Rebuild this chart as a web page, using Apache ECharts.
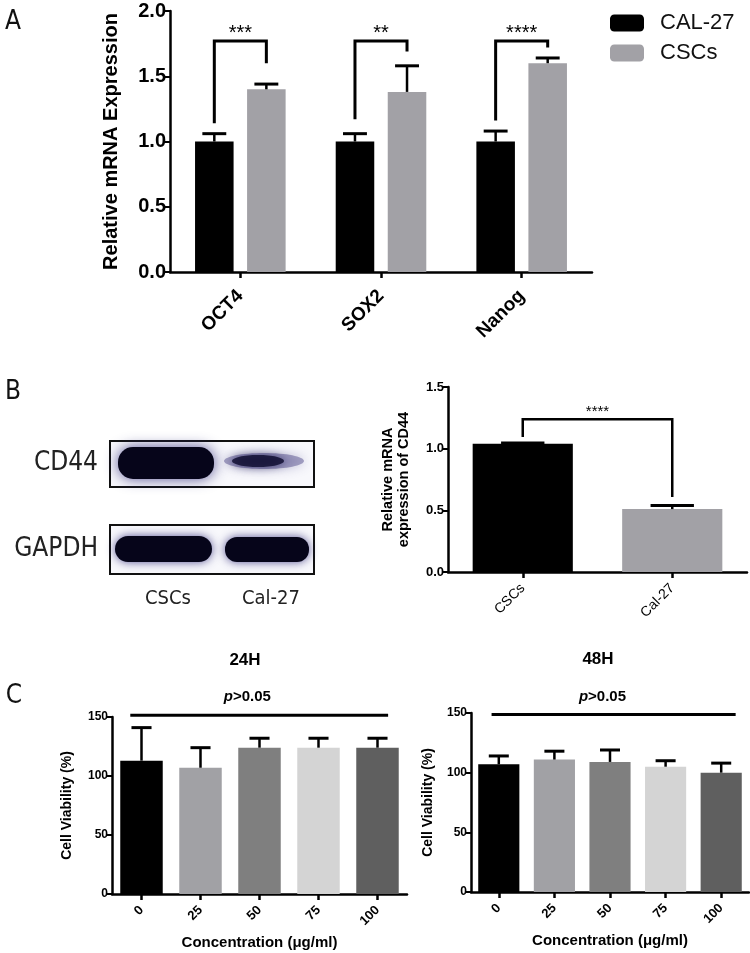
<!DOCTYPE html>
<html><head><meta charset="utf-8">
<script src="https://cdn.jsdelivr.net/npm/echarts@6/dist/echarts.min.js"></script>
<style>html,body{margin:0;padding:0;background:#fff}#c{width:750px;height:953px}</style>
</head><body><div id="c"></div><script>
// ---------- Panel A data ----------
const geneCategories = ['OCT4', 'SOX2', 'Nanog'];
const cal27Mean = [1.00, 1.00, 1.00];
const cal27Err = [0.06, 0.06, 0.08];
const cscMean = [1.40, 1.38, 1.60];
const cscErr = [0.04, 0.20, 0.04];
const geneStars = ['***', '**', '****'];
const geneBracketLeftBase = [1.14, 1.17, 1.16];
const geneBracketTop = [1.77, 1.77, 1.77];
const geneBracketRightBase = [1.60, 1.69, 1.72];
const seriesNamesA = ['CAL-27', 'CSCs'];

// ---------- Panel B data ----------
const cd44Categories = ['CSCs', 'Cal-27'];
const cd44Mean = [1.04, 0.51];
const cd44Err = [0.005, 0.03];
const cd44Bracket = [1.095, 1.238, 0.608];
const cd44Stars = '****';
const blotProteins = ['CD44', 'GAPDH'];
const blotLanes = ['CSCs', 'Cal-27'];

// ---------- Panel C data ----------
const concCategories = ['0', '25', '50', '75', '100'];
const via24Mean = [113, 107, 124, 124, 124];
const via24Err = [28, 17, 8, 8, 8];
const via48Mean = [107, 111, 109, 105, 100];
const via48Err = [7, 7, 10, 5, 8];
const viaPLine24 = 151.5;
const viaPLine48 = 148.7;
const pText = ['p', '>0.05'];
const timeTitles = ['24H', '48H'];

// ---------- styles ----------
const FONT = "'Liberation Sans', Arial, sans-serif";
const NARROW = "'DejaVu Sans Condensed', 'Liberation Sans Narrow', sans-serif";
const GRAY = '#a2a1a6';
const concColors = ['#000000', '#a1a1a5', '#7f7f7f', '#d4d4d4', '#5f5f5f'];

function errorSeries(idx, means, errs, offset, cap, lw) {
  return {
    type: 'custom', xAxisIndex: idx, yAxisIndex: idx, silent: true, z: 4,
    data: means.map((m, i) => [i, m, errs[i]]),
    encode: { x: 0, y: 1 },
    renderItem: function (params, api) {
      const i = api.value(0), m = api.value(1), e = api.value(2);
      const band = api.size([1, 0])[0];
      const p0 = api.coord([i, m]);
      const p1 = api.coord([i, m + e]);
      const x = p0[0] + offset * band;
      const h = cap * band / 2;
      return {
        type: 'group', children: [
          { type: 'line', shape: { x1: x, y1: p0[1], x2: x, y2: p1[1] }, style: { stroke: '#000', lineWidth: lw } },
          { type: 'line', shape: { x1: x - h, y1: p1[1], x2: x + h, y2: p1[1] }, style: { stroke: '#000', lineWidth: lw + 0.5 } }
        ]
      };
    }
  };
}

function xAxisBase(idx, data, labelOpt, name, nameGap) {
  return {
    type: 'category', gridIndex: idx, data: data,
    axisLine: { show: true, lineStyle: { color: '#000', width: 2.5 } },
    axisTick: { show: true, alignWithLabel: true, length: 6, lineStyle: { color: '#000', width: 2.5 } },
    axisLabel: Object.assign({ rotate: 45, color: '#000', fontFamily: FONT, interval: 0 }, labelOpt),
    splitLine: { show: false },
    name: name || '', nameLocation: 'middle', nameGap: nameGap || 30,
    nameTextStyle: { color: '#000', fontFamily: FONT, fontWeight: 'bold', fontSize: 15 }
  };
}
function yAxisBase(idx, min, max, interval, labelOpt, name, nameGap, nameStyle, fmt) {
  return {
    type: 'value', gridIndex: idx, min: min, max: max, interval: interval,
    axisLine: { show: true, lineStyle: { color: '#000', width: 2.5 } },
    axisTick: { show: true, length: 5, lineStyle: { color: '#000', width: 2 } },
    axisLabel: Object.assign({ color: '#000', fontFamily: FONT, fontWeight: 'bold', margin: 4, formatter: fmt }, labelOpt),
    splitLine: { show: false },
    name: name, nameLocation: 'middle', nameGap: nameGap, nameRotate: 90,
    nameTextStyle: Object.assign({ color: '#000', fontFamily: FONT, fontWeight: 'bold' }, nameStyle)
  };
}

const series = [];
// Panel A bars
series.push({ type: 'bar', name: seriesNamesA[0], xAxisIndex: 0, yAxisIndex: 0, data: cal27Mean,
  barWidth: '27.4%', barGap: '35%', itemStyle: { color: '#000' }, silent: true });
series.push({ type: 'bar', name: seriesNamesA[1], xAxisIndex: 0, yAxisIndex: 0, data: cscMean,
  barWidth: '27.4%', barGap: '35%', itemStyle: { color: GRAY }, silent: true });
series.push(errorSeries(0, cal27Mean, cal27Err, -0.185, 0.17, 2.5));
series.push(errorSeries(0, cscMean, cscErr, 0.185, 0.17, 2.5));
// Panel A brackets
series.push({
  type: 'custom', xAxisIndex: 0, yAxisIndex: 0, silent: true, z: 5,
  data: geneCategories.map((c, i) => [i, geneBracketLeftBase[i], geneBracketTop[i], geneBracketRightBase[i]]),
  encode: { x: 0, y: 2 },
  renderItem: function (params, api) {
    const i = api.value(0);
    const band = api.size([1, 0])[0];
    const cx = api.coord([i, 0])[0];
    const xl = cx - 0.185 * band, xr = cx + 0.185 * band;
    const yl = api.coord([i, api.value(1)])[1];
    const yt = api.coord([i, api.value(2)])[1];
    const yr = api.coord([i, api.value(3)])[1];
    return { type: 'group', children: [
      { type: 'polyline', shape: { points: [[xl, yl], [xl, yt], [xr, yt], [xr, yr]] }, style: { stroke: '#000', lineWidth: 3, fill: null } },
      { type: 'text', x: cx, y: yt - 8, style: { text: geneStars[params.dataIndex], font: '20px ' + FONT, fill: '#000', align: 'center', verticalAlign: 'middle' } }
    ] };
  }
});

// Panel B bar
series.push({ type: 'bar', xAxisIndex: 1, yAxisIndex: 1, barWidth: '67%', silent: true,
  data: cd44Mean.map((v, i) => ({ value: v, itemStyle: { color: i === 0 ? '#000' : GRAY } })) });
series.push(errorSeries(1, cd44Mean, cd44Err, 0, 0.29, 2.5));
series.push({
  type: 'custom', xAxisIndex: 1, yAxisIndex: 1, silent: true, z: 5,
  data: [[0, 1, cd44Bracket[0], cd44Bracket[1], cd44Bracket[2]]],
  encode: { x: 0, y: 3 },
  renderItem: function (params, api) {
    const xl = api.coord([api.value(0), 0])[0];
    const xr = api.coord([api.value(1), 0])[0];
    const yl = api.coord([0, api.value(2)])[1];
    const yt = api.coord([0, api.value(3)])[1];
    const yr = api.coord([0, api.value(4)])[1];
    return { type: 'group', children: [
      { type: 'polyline', shape: { points: [[xl, yl], [xl, yt], [xr, yt], [xr, yr]] }, style: { stroke: '#000', lineWidth: 2.5, fill: null } },
      { type: 'text', x: (xl + xr) / 2, y: yt - 7, style: { text: cd44Stars, font: '15px ' + FONT, fill: '#000', align: 'center', verticalAlign: 'middle' } }
    ] };
  }
});

// Panel C bars
function viaBars(idx, means, bw) {
  return { type: 'bar', xAxisIndex: idx, yAxisIndex: idx, barWidth: bw, silent: true,
    data: means.map((v, i) => ({ value: v, itemStyle: { color: concColors[i] } })) };
}
function pLineSeries(idx, yv, offL, offR) {
  return {
    type: 'custom', xAxisIndex: idx, yAxisIndex: idx, silent: true, z: 5,
    data: [[0, yv]], encode: { x: 0, y: 1 },
    renderItem: function (params, api) {
      const band = api.size([1, 0])[0];
      const y = api.coord([0, api.value(1)])[1];
      const xa = api.coord([0, 0])[0] + offL * band;
      const xb = api.coord([concCategories.length - 1, 0])[0] + offR * band;
      return { type: 'group', children: [
        { type: 'line', shape: { x1: xa, y1: y, x2: xb, y2: y }, style: { stroke: '#000', lineWidth: 3 } },
        { type: 'text', x: (xa + xb) / 2 - 0.2 * band, y: y - 18, style: {
          text: '{i|' + pText[0] + '}{b|' + pText[1] + '}', align: 'center', verticalAlign: 'middle',
          rich: { i: { font: 'italic bold 15px ' + FONT, fill: '#000' }, b: { font: 'bold 15px ' + FONT, fill: '#000' } } } }
      ] };
    }
  };
}
series.push(viaBars(2, via24Mean, '72%'));
series.push(errorSeries(2, via24Mean, via24Err, 0, 0.34, 2.5));
series.push(pLineSeries(2, viaPLine24, -0.19, 0.18));
series.push(viaBars(3, via48Mean, '74%'));
series.push(errorSeries(3, via48Mean, via48Err, 0, 0.36, 2.5));
series.push(pLineSeries(3, viaPLine48, -0.13, 0.26));

// ---------- blot graphics ----------
const bandGlow = 'rgba(45,40,120,0.8)';
const graphic = [
  { type: 'text', x: 13, y: 22, style: { text: 'A', font: '26px ' + NARROW, fill: '#111', align: 'center', verticalAlign: 'middle' } },
  { type: 'text', x: 13, y: 392, style: { text: 'B', font: '26px ' + NARROW, fill: '#111', align: 'center', verticalAlign: 'middle' } },
  { type: 'text', x: 14, y: 696, style: { text: 'C', font: '26px ' + NARROW, fill: '#111', align: 'center', verticalAlign: 'middle' } },
  { type: 'text', x: 245, y: 660, style: { text: timeTitles[0], font: 'bold 17px ' + FONT, fill: '#000', align: 'center', verticalAlign: 'middle' } },
  { type: 'text', x: 598, y: 659, style: { text: timeTitles[1], font: 'bold 17px ' + FONT, fill: '#000', align: 'center', verticalAlign: 'middle' } },
  // blot boxes
  { type: 'rect', shape: { x: 110, y: 441, width: 204, height: 46 }, style: { fill: '#f8f8fc', stroke: '#111', lineWidth: 2 } },
  { type: 'rect', shape: { x: 110, y: 525, width: 204, height: 49 }, style: { fill: '#f8f8fc', stroke: '#111', lineWidth: 2 } },
  // CD44 bands
  { type: 'rect', shape: { x: 118, y: 447, width: 96, height: 32, r: 15 }, style: { fill: '#06051a', shadowBlur: 14, shadowColor: bandGlow } },
  { type: 'ellipse', shape: { cx: 264, cy: 461, rx: 40, ry: 8 }, style: { fill: 'rgba(70,65,130,0.45)', shadowBlur: 12, shadowColor: 'rgba(70,65,140,0.7)' } },
  { type: 'ellipse', shape: { cx: 258, cy: 461, rx: 26, ry: 6 }, style: { fill: 'rgba(18,15,50,0.85)', shadowBlur: 8, shadowColor: 'rgba(30,25,80,0.8)' } },
  // GAPDH bands
  { type: 'rect', shape: { x: 115, y: 536, width: 97, height: 26, r: 13 }, style: { fill: '#06051a', shadowBlur: 10, shadowColor: bandGlow } },
  { type: 'rect', shape: { x: 225, y: 537, width: 84, height: 25, r: 12 }, style: { fill: '#06051a', shadowBlur: 10, shadowColor: bandGlow } },
  // blot labels
  { type: 'text', x: 98, y: 463, style: { text: blotProteins[0], font: '26px ' + NARROW, fill: '#222', align: 'right', verticalAlign: 'middle' } },
  { type: 'text', x: 98, y: 549, style: { text: blotProteins[1], font: '26px ' + NARROW, fill: '#222', align: 'right', verticalAlign: 'middle' } },
  { type: 'text', x: 168, y: 599, style: { text: blotLanes[0], font: '20px ' + NARROW, fill: '#222', align: 'center', verticalAlign: 'middle' } },
  { type: 'text', x: 271, y: 599, style: { text: blotLanes[1], font: '20px ' + NARROW, fill: '#222', align: 'center', verticalAlign: 'middle' } }
];

const option = {
  animation: false,
  backgroundColor: '#fff',
  textStyle: { fontFamily: FONT },
  legend: {
    data: seriesNamesA, orient: 'vertical', left: 610, top: 12, padding: 0,
    icon: 'roundRect', itemWidth: 34, itemHeight: 17, itemGap: 8,
    textStyle: { fontSize: 22, fontFamily: FONT, color: '#111', lineHeight: 22, padding: [0, 0, 0, 11] },
    selectedMode: false
  },
  grid: [
    { left: 170, top: 11, width: 422, height: 261, containLabel: false, outerBoundsMode: 'none' },
    { left: 448, top: 387, width: 299, height: 185, containLabel: false, outerBoundsMode: 'none' },
    { left: 112, top: 717, width: 295, height: 177, containLabel: false, outerBoundsMode: 'none' },
    { left: 471, top: 713, width: 278, height: 179, containLabel: false, outerBoundsMode: 'none' }
  ],
  xAxis: [
    xAxisBase(0, geneCategories, { fontSize: 19, fontWeight: 'bold', margin: 21 }),
    xAxisBase(1, cd44Categories, { fontSize: 14, margin: 14 }),
    xAxisBase(2, concCategories, { fontSize: 13, fontWeight: 'bold', margin: 14 }, 'Concentration (μg/ml)', 41),
    xAxisBase(3, concCategories, { fontSize: 13, fontWeight: 'bold', margin: 14 }, 'Concentration (μg/ml)', 41)
  ],
  yAxis: [
    yAxisBase(0, 0, 2, 0.5, { fontSize: 20 }, 'Relative mRNA Expression', 49, { fontSize: 20 }, v => v.toFixed(1)),
    yAxisBase(1, 0, 1.5, 0.5, { fontSize: 13 }, 'Relative mRNA\nexpression of CD44', 36, { fontSize: 14.5, lineHeight: 16 }, v => v.toFixed(1)),
    yAxisBase(2, 0, 150, 50, { fontSize: 12 }, 'Cell Viability (%)', 38, { fontSize: 14 }, v => String(v)),
    yAxisBase(3, 0, 150, 50, { fontSize: 12 }, 'Cell Viability (%)', 36, { fontSize: 14 }, v => String(v))
  ],
  series: series,
  graphic: graphic
};
const chart = echarts.init(document.getElementById('c'));
chart.setOption(option);
</script></body></html>
